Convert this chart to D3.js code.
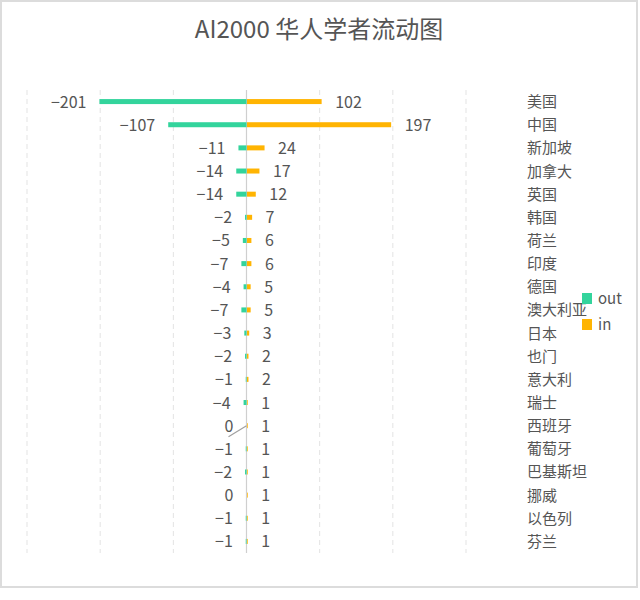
<!DOCTYPE html>
<html>
<head>
<meta charset="utf-8">
<script src="https://cdn.jsdelivr.net/npm/d3@7"></script>
<style>
  body { margin: 0; background: #fff; }
  text { font-family: "Noto Sans CJK SC", "Noto Sans", sans-serif; }
</style>
</head>
<body>
<svg id="chart" width="640" height="600"></svg>
<script>
// chart data
var countries = ["美国", "中国", "新加坡", "加拿大", "英国", "韩国", "荷兰", "印度", "德国", "澳大利亚",
  "日本", "也门", "意大利", "瑞士", "西班牙", "葡萄牙", "巴基斯坦", "挪威", "以色列", "芬兰"];
var outValues = [-201, -107, -11, -14, -14, -2, -5, -7, -4, -7, -3, -2, -1, -4, 0, -1, -2, 0, -1, -1];
var inValues = [102, 197, 24, 17, 12, 7, 6, 6, 5, 5, 3, 2, 2, 1, 1, 1, 1, 1, 1, 1];
var gridTicks = [-300, -200, -100, 0, 100, 200, 300];
var seriesNames = ["out", "in"];

var colors = { out: "#33d49c", in: "#ffb402" };
var svg = d3.select("#chart");

// frame
svg.append("rect")
  .attr("x", 1).attr("y", 1)
  .attr("width", 636).attr("height", 586)
  .attr("fill", "#fff")
  .attr("stroke", "#dcdcdc")
  .attr("stroke-width", 2);

// title
svg.append("text")
  .attr("x", 319).attr("y", 38)
  .attr("text-anchor", "middle")
  .attr("font-size", 24)
  .attr("fill", "#555")
  .text("AI2000 华人学者流动图");

var x = d3.scaleLinear().domain([-300, 300]).range([27, 466]),
  y = d3.scaleBand().domain(countries).range([90, 553]);

var rows = countries.map((c, i) => ({ name: c, out: outValues[i], in: inValues[i] }));

// dashed grid
svg.append("g").selectAll("line")
  .data(gridTicks.filter((t) => t !== 0))
  .enter().append("line")
  .attr("x1", (d) => x(d)).attr("x2", (d) => x(d))
  .attr("y1", 90).attr("y2", 553)
  .attr("stroke", "#e3e3e3")
  .attr("stroke-dasharray", "5,4");

// zero line
svg.append("line")
  .attr("x1", x(0)).attr("x2", x(0))
  .attr("y1", 90).attr("y2", 553)
  .attr("stroke", "#cfcfcf")
  .attr("stroke-width", 1.2);

var barH = 5;

// out bars
svg.append("g").selectAll("rect")
  .data(rows)
  .enter().append("rect")
  .attr("x", (d) => x(d.out))
  .attr("y", (d) => y(d.name) + y.bandwidth() / 2 - barH / 2)
  .attr("width", (d) => x(0) - x(d.out))
  .attr("height", barH)
  .attr("fill", colors.out);

// in bars
svg.append("g").selectAll("rect")
  .data(rows)
  .enter().append("rect")
  .attr("x", x(0) + 0.5)
  .attr("y", (d) => y(d.name) + y.bandwidth() / 2 - barH / 2)
  .attr("width", (d) => x(d.in) - x(0))
  .attr("height", barH)
  .attr("fill", colors.in);

// leader line left over next to 西班牙
var yEs = y("西班牙") + y.bandwidth() / 2;
svg.append("line")
  .attr("x1", x(0)).attr("y1", yEs)
  .attr("x2", x(0) - 18).attr("y2", yEs + 11)
  .attr("stroke", "#a0a0a0")
  .attr("stroke-width", 1.2);

// value labels
svg.append("g").selectAll("text")
  .data(rows)
  .enter().append("text")
  .attr("x", (d) => x(d.out) - 13)
  .attr("y", (d) => y(d.name) + y.bandwidth() / 2 + 6)
  .attr("text-anchor", "end")
  .attr("font-size", 16)
  .attr("fill", "#555")
  .text((d) => d.out === 0 ? "0" : "\u2212" + Math.abs(d.out));

svg.append("g").selectAll("text")
  .data(rows)
  .enter().append("text")
  .attr("x", (d) => x(d.in) + 14)
  .attr("y", (d) => y(d.name) + y.bandwidth() / 2 + 6)
  .attr("font-size", 16)
  .attr("fill", "#555")
  .text((d) => d.in);

// country names
svg.append("g").selectAll("text")
  .data(countries)
  .enter().append("text")
  .attr("x", 527)
  .attr("y", (d) => y(d) + y.bandwidth() / 2 + 5.5)
  .attr("font-size", 15)
  .attr("fill", "#555")
  .text((d) => d);

// legend
var legend = svg.append("g").selectAll("g")
  .data(seriesNames)
  .enter().append("g")
  .attr("transform", (d, i) => "translate(582," + (293 + i * 26) + ")");

legend.append("rect")
  .attr("width", 10).attr("height", 11)
  .attr("fill", (d) => colors[d]);

legend.append("text")
  .attr("x", 16).attr("y", 11)
  .attr("font-size", 15)
  .attr("fill", "#555")
  .text((d) => d);
</script>
</body>
</html>
